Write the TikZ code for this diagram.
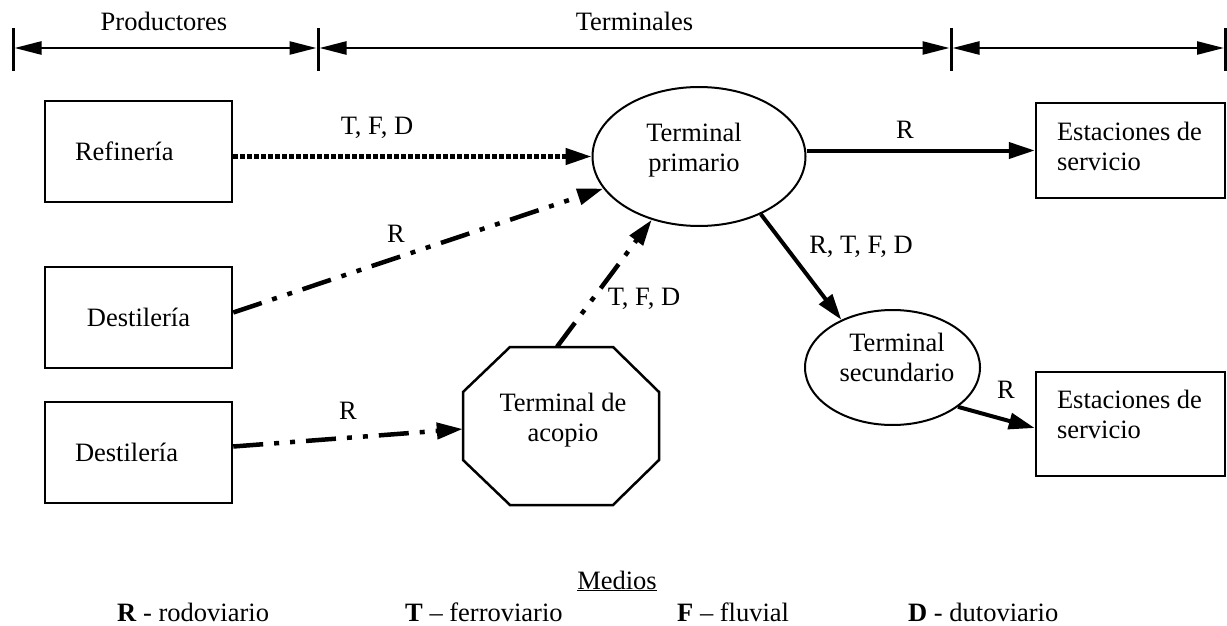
\documentclass[tikz,border=0pt]{standalone}
\usepackage{fontspec}
\setmainfont{Liberation Serif}
\usetikzlibrary{arrows.meta,shapes.geometric,calc}
\begin{document}
\begin{tikzpicture}[x=1pt,y=-1pt,
  font=\fontsize{26.5}{30}\selectfont,
  box/.style={draw,line width=2.5pt,rectangle,inner sep=0pt},
  oval/.style={draw,line width=2pt,ellipse,inner sep=0pt},
  txt/.style={inner sep=0pt,align=center},
  lbl/.style={inner sep=0pt,anchor=base},
  tipend/.style={-{Triangle[length=26pt,width=16pt]}},
  solidcon/.style={tipend,line width=4pt},
  dotcon/.style={tipend,line width=4.5pt,dash pattern=on 4.5pt off 2.5pt},
  ddcon/.style={tipend,line width=4.5pt,dash pattern=on 30pt off 11pt on 5pt off 11pt on 5pt off 11pt},
  tickline/.style={line width=3pt},
  spanline/.style={line width=2.5pt,{Triangle[length=27pt,width=13pt]}-{Triangle[length=27pt,width=13pt]}}
]
\useasboundingbox (0,0) rectangle (1227,626);

% top bar
\coordinate (b1) at (13,48);
\coordinate (b2) at (318,48);
\coordinate (b3) at (951,48);
\coordinate (b4) at (1225.5,48);
\foreach \b in {b1,b2,b3,b4}{
  \draw[tickline] ($(\b)+(0,-20)$) -- ($(\b)+(0,23)$);
}
\draw[spanline] ($(b1)+(1.5,0)$) -- ($(b2)+(-1.5,0)$);
\draw[spanline] ($(b2)+(1.5,0)$) -- ($(b3)+(-1.5,0)$);
\draw[spanline] ($(b3)+(1.5,0)$) -- ($(b4)+(-1.5,0)$);
\node[lbl] (prod) at (164,31) {Productores};
\node[lbl] (term) at (634.5,31) {Terminales};

% producers
\node[box,minimum width=187pt,minimum height=101pt,text width=127pt,inner xsep=30pt,align=left] (ref) at (138.5,151.5) {Refinería};
\node[box,minimum width=187pt,minimum height=101pt,align=center] (d1) at (138.5,317.5) {Destilería};
\node[box,minimum width=187pt,minimum height=101pt,text width=127pt,inner xsep=30pt,align=left] (d2) at (138.5,452.5) {Destilería};

% terminals
\node[oval,minimum width=213pt,minimum height=139pt] (tp) at (699,156.5) {};
\node[txt] (tpt) at (694,150) {Terminal\\primario};
\node[oval,minimum width=175pt,minimum height=115pt] (ts) at (892.5,367.5) {};
\node[txt] (tst) at (897,357) {Terminal\\secundario};
\node[inner sep=0pt,minimum width=196pt,minimum height=158pt] (acop) at (561,426) {};
\draw[line width=2.5pt] (510,347) -- (613,347) -- (659,392) -- (659,460) -- (613,505)
  -- (510,505) -- (463,460) -- (463,392) -- cycle;
\node[txt] (acopt) at (563,420) {Terminal de\\acopio};

% stations
\node[box,minimum width=189pt,minimum height=95pt] (e1) at (1130.5,150.5) {};
\node[txt,align=left] (e1t) at (1129.5,146) {Estaciones de\\servicio};
\node[box,minimum width=189pt,minimum height=104pt] (e2) at (1130.5,424) {};
\node[txt,align=left] (e2t) at (1129.5,414) {Estaciones de\\servicio};

% connectors
\draw[dotcon] (ref.east |- tp.west) -- (tp.west);
\node[lbl] (l1) at (377,135) {T, F, D};

\draw[ddcon] ($(d1.east)+(0,-5)$) -- (tp);
\node[lbl] (l2) at (396,242) {R};

\draw[ddcon] ($(d2.east)+(0,-6)$) -- ($(acop.west)+(0,3)$);
\node[lbl] (l3) at (348,419) {R};

\draw[ddcon] ($(acop.north)+(-4,0)$) -- (tp);
\node[lbl] (l4) at (644,305) {T, F, D};

\draw[solidcon] (tp.east |- e1.west) -- (e1.west);
\node[lbl] (l5) at (905,139) {R};

\draw[solidcon] (tp.-43) -- (ts.137);
\node[lbl] (l6) at (861,253) {R, T, F, D};

\draw[solidcon] (ts.-31) -- ($(e2.west)+(0,4)$);
\node[lbl] (l7) at (1006,398) {R};

% legend
\node[lbl] (medios) at (617,589) {\underline{Medios}};
\node[lbl,anchor=base west] (legR) at (117,621) {\textbf{R} - rodoviario};
\node[lbl,anchor=base west] (legT) at (405,621) {\textbf{T} – ferroviario};
\node[lbl,anchor=base west] (legF) at (677,621) {\textbf{F} – fluvial};
\node[lbl,anchor=base west] (legD) at (908,621) {\textbf{D} - dutoviario};
\end{tikzpicture}
\end{document}
